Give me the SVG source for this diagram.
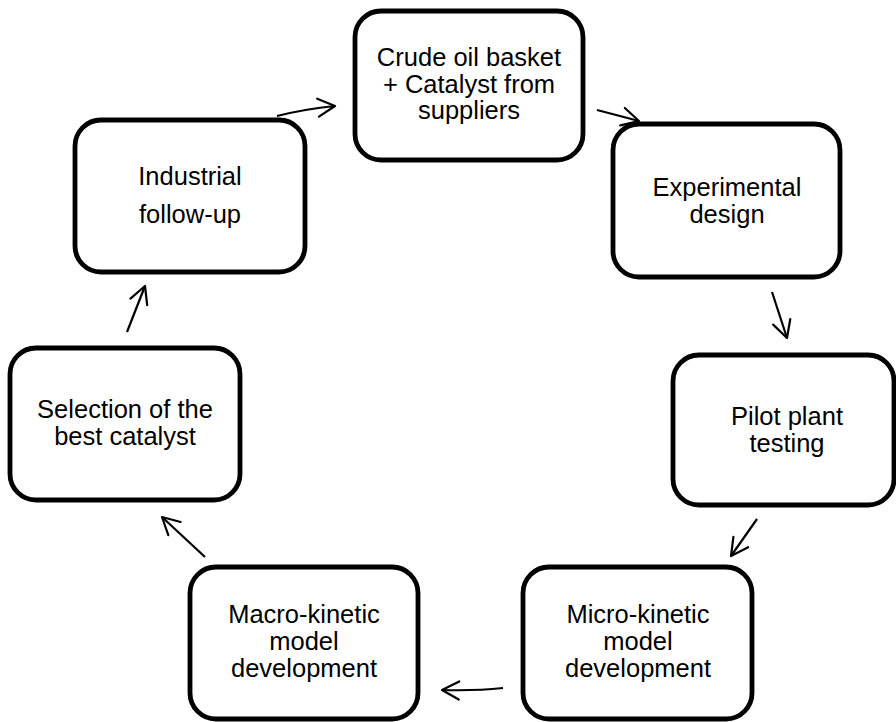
<svg xmlns="http://www.w3.org/2000/svg" width="896" height="722" viewBox="0 0 896 722">
<defs>
<style>
.box{fill:#fff;stroke:#000;stroke-width:4.8}
.lbl{font-family:"Liberation Sans",Arial,sans-serif;font-size:25.5px;fill:#000;text-anchor:middle}
.arr{fill:none;stroke:#000;stroke-width:2.2;marker-end:url(#head)}
</style>
<marker id="head" viewBox="0 0 22 22" refX="20" refY="11" markerWidth="22" markerHeight="22" markerUnits="userSpaceOnUse" orient="auto">
<path d="M3,2 L20,11 L3,20" fill="none" stroke="#000" stroke-width="2.2" stroke-linecap="round" stroke-linejoin="round"/>
</marker>
</defs>
<rect width="896" height="722" fill="#fff"/>
<g id="connectors">
<path class="arr" d="M277,116 Q305,109 335,106"/>
<path class="arr" d="M597,110 L639,121"/>
<path class="arr" d="M772,292 L787,338"/>
<path class="arr" d="M757,519 L731,556"/>
<path class="arr" d="M503,688 Q475,691 442,690"/>
<path class="arr" d="M205,557 L162,517"/>
<path class="arr" d="M127,332 L145,286"/>
</g>
<g id="node-crude">
<rect class="box" x="355" y="11" width="228" height="149" rx="26"/>
<text class="lbl" x="469" y="66">Crude oil basket</text>
<text class="lbl" x="469" y="93">+ Catalyst from</text>
<text class="lbl" x="469" y="119">suppliers</text>
</g>
<g id="node-experimental">
<rect class="box" x="613" y="124" width="227" height="153" rx="26"/>
<text class="lbl" x="727" y="196">Experimental</text>
<text class="lbl" x="727" y="223">design</text>
</g>
<g id="node-pilot">
<rect class="box" x="673" y="355" width="221" height="150" rx="26"/>
<text class="lbl" x="787" y="425">Pilot plant</text>
<text class="lbl" x="787" y="452">testing</text>
</g>
<g id="node-micro">
<rect class="box" x="523" y="567" width="229" height="152" rx="26"/>
<text class="lbl" x="638" y="623">Micro-kinetic</text>
<text class="lbl" x="638" y="650">model</text>
<text class="lbl" x="638" y="677">development</text>
</g>
<g id="node-macro">
<rect class="box" x="190" y="567" width="228" height="152" rx="26"/>
<text class="lbl" x="304" y="623">Macro-kinetic</text>
<text class="lbl" x="304" y="650">model</text>
<text class="lbl" x="304" y="677">development</text>
</g>
<g id="node-selection">
<rect class="box" x="10" y="348" width="230" height="152" rx="26"/>
<text class="lbl" x="125" y="418">Selection of the</text>
<text class="lbl" x="125" y="445">best catalyst</text>
</g>
<g id="node-industrial">
<rect class="box" x="75" y="120" width="230" height="152" rx="26"/>
<text class="lbl" x="190" y="185">Industrial</text>
<text class="lbl" x="190" y="223">follow-up</text>
</g>
</svg>
